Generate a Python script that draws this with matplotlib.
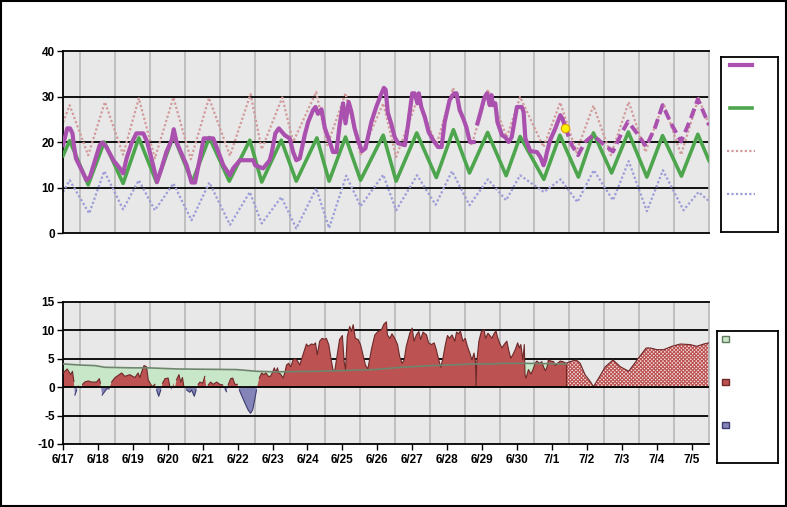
import numpy as np
import matplotlib
matplotlib.use("Agg")
import matplotlib.pyplot as plt
from matplotlib.patches import Rectangle
from matplotlib.lines import Line2D

# x values are days counted from 6/17 00:00
day_labels = ['6/17', '6/18', '6/19', '6/20', '6/21', '6/22', '6/23', '6/24', '6/25', '6/26',
              '6/27', '6/28', '6/29', '6/30', '7/1', '7/2', '7/3', '7/4', '7/5']

# observed temperature (thick purple)
obs_t = [0.00, 0.12, 0.20, 0.27, 0.31, 0.37, 0.58, 0.67, 0.77, 0.96, 1.05, 1.13, 1.24, 1.44, 1.63,
         1.72, 1.82, 1.96, 2.10, 2.30, 2.41, 2.58, 2.69, 2.82, 2.96, 3.11, 3.17, 3.25, 3.39, 3.54,
         3.68, 3.78, 3.92, 4.03, 4.30, 4.45, 4.59, 4.78, 4.87, 5.07, 5.45, 5.50, 5.73, 5.92, 5.98,
         6.08, 6.18, 6.35, 6.49, 6.59, 6.68, 6.78, 6.92, 7.02, 7.16, 7.23, 7.30, 7.40, 7.50, 7.64,
         7.73, 7.83, 7.92, 8.02, 8.09, 8.18, 8.26, 8.35, 8.45, 8.56, 8.66, 8.83, 8.97, 9.10, 9.19,
         9.24, 9.30, 9.40, 9.50, 9.60, 9.79, 9.88, 10.00, 10.07, 10.15, 10.19, 10.26, 10.36, 10.47,
         10.60, 10.74, 10.84, 10.93, 11.07, 11.20, 11.27, 11.36, 11.46, 11.55, 11.65, 11.76, 11.80,
         11.87, 11.96, 12.06, 12.14, 12.22, 12.27, 12.31, 12.38, 12.44, 12.57, 12.66, 12.76, 12.85,
         13.00, 13.14, 13.19, 13.24, 13.28, 13.38, 13.57, 13.67, 13.76, 13.81, 13.86, 13.95, 14.10,
         14.24, 14.31, 14.38]
obs_v = [19.3, 23.0, 23.0, 21.9, 19.3, 16.4, 13.1, 11.6, 12.3, 17.1, 19.3, 19.9, 18.9, 16.0, 14.2,
         13.1, 16.4, 19.7, 21.9, 21.9, 20.0, 14.9, 11.2, 14.2, 17.8, 20.4, 22.8, 20.0, 17.5, 14.9,
         11.1, 11.1, 16.4, 20.8, 20.8, 17.8, 14.9, 12.7, 14.2, 16.0, 16.0, 14.9, 14.2, 16.0, 17.8,
         21.9, 23.0, 21.5, 20.8, 17.8, 16.0, 16.4, 21.5, 24.4, 27.0, 27.7, 26.2, 27.2, 23.0, 20.0,
         17.8, 17.8, 23.7, 28.5, 24.1, 28.8, 26.6, 23.0, 20.4, 18.0, 18.6, 24.4, 27.7, 30.3, 31.9,
         31.5, 26.5, 24.0, 21.0, 19.7, 19.3, 23.7, 30.7, 30.7, 28.5, 30.7, 27.7, 25.5, 22.2,
         20.4, 18.9, 18.9, 24.4, 29.2, 30.7, 30.7, 27.0, 25.2, 23.3, 20.0, 20.0, np.nan,
         24.1, 26.6, 29.6, 30.7, 28.1, 30.3, 28.1, 28.5, 24.4, 21.5, 21.1, 20.0, 21.1,
         27.7, 27.7, 26.6, 20.8, 20.0, 18.0, 17.8, 16.7, 14.9, 16.0, 17.8, 20.4, 23.0,
         25.9, 25.0, 23.3]
latest_t = 14.39
latest_v = 23.0

# forecast temperature (dashed purple)
fcst_t = [14.38, 14.57, 14.75, 14.95, 15.18, 15.48, 15.75, 16.00, 16.18, 16.44, 16.70, 16.96,
          17.17, 17.44, 17.70, 17.96, 18.18, 18.38, 18.50]
fcst_v = [23.3, 19.3, 17.1, 20.0, 21.5, 19.5, 17.9, 22.0, 24.5, 21.9, 19.0, 23.3,
          28.1, 23.7, 20.1, 24.8, 29.4, 25.9, 23.7]

# normal temperature (green)
norm_t = [0.00, 0.19, 0.72, 1.18, 1.72, 2.17, 2.68, 3.16, 3.70, 4.19, 4.76, 5.35, 5.69, 6.25,
          6.68, 7.27, 7.62, 8.09, 8.52, 9.17, 9.54, 10.13, 10.69, 11.18, 11.64, 12.16, 12.69,
          13.09, 13.77, 14.23, 14.76, 15.19, 15.71, 16.19, 16.72, 17.17, 17.71, 18.18, 18.50]
norm_v = [17.0, 20.3, 10.6, 20.0, 10.9, 20.9, 11.1, 21.4, 11.2, 21.0, 11.4, 20.4, 11.2, 20.4,
          11.4, 20.9, 11.4, 21.1, 11.6, 21.5, 11.4, 22.0, 12.2, 22.7, 13.2, 22.1, 12.6,
          21.2, 11.8, 21.5, 12.3, 22.0, 13.2, 22.2, 12.3, 21.4, 12.5, 21.7, 15.9]

# record high (dotted)
hi_t = [0.00, 0.19, 0.72, 1.20, 1.72, 2.17, 2.63, 3.16, 3.66, 4.18, 4.78, 5.37, 5.69, 6.28,
        6.59, 7.25, 7.57, 8.09, 8.52, 9.17, 9.54, 10.16, 10.69, 11.17, 11.70, 12.17, 12.71,
        13.09, 13.76, 14.24, 14.70, 15.19, 15.69, 16.20, 16.68, 17.20, 17.70, 18.20, 18.50]
hi_v = [24.3, 28.1, 17.1, 28.8, 17.2, 29.6, 16.4, 29.8, 16.2, 29.7, 17.0, 30.5, 18.4, 29.8,
        20.0, 31.0, 19.3, 30.7, 17.1, 28.5, 16.7, 29.6, 19.3, 31.9, 19.3, 31.5, 21.1,
        29.9, 18.9, 28.7, 17.8, 28.0, 17.1, 28.8, 17.8, 28.5, 17.2, 29.7, 23.7]

# record low (dotted)
lo_t = [0.00, 0.19, 0.75, 1.18, 1.72, 2.17, 2.63, 3.16, 3.68, 4.19, 4.78, 5.35, 5.69, 6.25,
        6.68, 7.25, 7.62, 8.11, 8.52, 9.17, 9.54, 10.14, 10.67, 11.14, 11.64, 12.17, 12.69,
        13.09, 13.77, 14.25, 14.73, 15.20, 15.75, 16.20, 16.72, 17.18, 17.77, 18.20, 18.50]
lo_v = [9.0, 11.6, 4.3, 13.6, 5.2, 11.6, 5.0, 10.9, 2.8, 11.1, 1.8, 9.0, 2.1, 7.9,
        1.0, 9.8, 1.1, 12.6, 5.9, 12.8, 5.0, 12.7, 6.2, 13.6, 6.1, 11.8, 7.2,
        12.7, 9.0, 11.8, 6.8, 13.8, 7.2, 15.8, 4.8, 13.8, 5.0, 9.0, 7.0]

# departure from normal, observed part
dep_t = [0.00, 0.05, 0.12, 0.18, 0.22, 0.27, 0.31, 0.34, 0.39, 0.43, 0.50, 0.56, 0.62, 0.72,
         0.82, 0.96, 1.04, 1.07, 1.12, 1.18, 1.25, 1.32, 1.39, 1.49, 1.61, 1.68, 1.77, 1.91,
         2.06, 2.15, 2.20, 2.28, 2.32, 2.39, 2.44, 2.51, 2.56, 2.63, 2.68, 2.74, 2.80, 2.85,
         2.92, 3.01, 3.06, 3.11, 3.16, 3.20, 3.25, 3.32, 3.37, 3.42, 3.46, 3.54, 3.63, 3.68,
         3.76, 3.81, 3.87, 3.92, 4.00, 4.06, 4.11, 4.16, 4.23, 4.30, 4.40, 4.49, 4.57, 4.64,
         4.68, 4.73, 4.80, 4.86, 4.92, 4.99, 5.05, 5.11, 5.21, 5.30, 5.37, 5.43, 5.50, 5.54,
         5.62, 5.69, 5.75, 5.81, 5.88, 5.94, 6.00, 6.05, 6.10, 6.14, 6.18, 6.23, 6.30, 6.35,
         6.40, 6.46, 6.52, 6.59, 6.65, 6.73, 6.78, 6.84, 6.92, 6.97, 7.02, 7.11, 7.19, 7.23,
         7.28, 7.35, 7.42, 7.49, 7.54, 7.61, 7.68, 7.73, 7.78, 7.83, 7.92, 8.00, 8.05, 8.09,
         8.14, 8.21, 8.26, 8.31, 8.37, 8.45, 8.52, 8.59, 8.66, 8.73, 8.83, 8.93, 9.02, 9.12,
         9.19, 9.26, 9.29, 9.36, 9.42, 9.50, 9.58, 9.64, 9.71, 9.77, 9.83, 9.93, 10.00, 10.05,
         10.12, 10.19, 10.24, 10.31, 10.41, 10.47, 10.55, 10.63, 10.69, 10.76, 10.82, 10.88,
         10.95, 11.01, 11.07, 11.14, 11.22, 11.27, 11.33, 11.38, 11.45, 11.52, 11.58, 11.65,
         11.71, 11.77, 11.81, 11.83, 11.85, 11.91, 11.98, 12.06, 12.10, 12.17, 12.25, 12.28,
         12.35, 12.40, 12.44, 12.50, 12.57, 12.63, 12.71, 12.76, 12.82, 12.88, 12.95, 13.02,
         13.07, 13.11, 13.17, 13.21, 13.23, 13.26, 13.33, 13.40, 13.46, 13.52, 13.57, 13.65,
         13.71, 13.76, 13.81, 13.86, 13.90, 13.97, 14.05, 14.10, 14.16, 14.24, 14.31, 14.41]
dep_v = [2.5, 2.8, 3.2, 2.6, 2.2, 2.8, 1.0, -1.4, -0.5, 0.4, -0.3, 0.5, 0.9, 1.1,
         0.9, 0.9, 1.5, 0.7, -1.4, -0.9, -0.3, -0.3, 0.9, 1.7, 2.2, 2.5, 1.9, 2.2,
         1.7, 2.5, 1.7, 3.2, 3.8, 3.6, 1.3, 0.5, 0.1, 0.5, -0.5, -1.6, -0.5, 0.7,
         1.5, 1.6, 0.1, -0.5, 0.7, -0.3, 1.3, 2.2, 0.9, 1.7, 0.1, -0.5, -0.9, -0.5,
         -1.6, -0.5, 0.5, 0.9, 0.7, 1.9, -0.1, 0.4, 0.9, 0.5, 0.9, 0.5, 0.4, -0.3,
         -0.8, 0.4, 1.5, 1.6, 0.5, 0.5, -0.5, -1.4, -2.8, -4.0, -4.6, -4.0, -1.9, -0.5,
         1.6, 2.5, 2.2, 2.5, 1.9, 1.9, 2.6, 3.4, 2.6, 3.4, 2.5, 2.3, 1.6, 2.5,
         3.9, 4.2, 3.6, 4.8, 5.0, 4.5, 3.9, 5.1, 6.6, 7.6, 7.2, 7.6, 7.5, 7.8,
         5.7, 8.1, 8.6, 8.4, 8.6, 7.5, 4.8, 3.1, 2.8, 4.8, 8.4, 9.1, 4.5, 3.1,
         8.9, 10.7, 9.8, 11.0, 8.6, 8.4, 7.5, 5.7, 3.9, 3.2, 6.6, 9.2, 9.8, 10.1,
         11.1, 11.5, 9.2, 8.6, 9.4, 8.6, 7.5, 5.4, 4.2, 4.8, 7.2, 9.5, 10.4, 8.1,
         9.2, 9.8, 8.4, 9.7, 9.2, 7.8, 7.5, 7.8, 6.6, 4.8, 3.5, 5.1,
         7.5, 9.1, 8.6, 9.2, 8.1, 9.7, 9.4, 9.9, 8.1, 8.6, 7.2, 6.0,
         4.8, 6.0, 4.5, 0.2, 4.5, 8.1, 9.8, 10.1, 8.6, 9.5, 8.9, 8.6,
         9.5, 9.9, 8.9, 7.8, 6.9, 7.5, 8.1, 6.6, 5.1, 5.7, 6.6, 7.8,
         6.9, 7.5, 4.8, 7.5, 2.2, 1.6, 3.1, 2.3, 3.1, 4.2, 4.6, 4.2,
         4.5, 3.6, 2.9, 3.5, 4.8, 4.6, 4.5, 3.8, 4.2, 4.6, 4.5, 4.2]

# departure, forecast part (hatched)
dep_fc_t = [14.41, 14.52, 14.70, 14.81, 14.95, 15.10, 15.19, 15.34, 15.53, 15.75, 15.96, 16.20,
            16.44, 16.70, 16.82, 17.01, 17.20, 17.44, 17.68, 17.96, 18.15, 18.35, 18.50]
dep_fc_v = [4.2, 4.5, 4.8, 4.2, 2.2, 1.0, 0.1, 1.6, 3.6, 4.8, 3.6, 2.8,
            4.8, 6.9, 6.9, 6.6, 6.6, 7.2, 7.6, 7.5, 7.2, 7.6, 7.8]

# running mean departure (green area)
avg_t = [0.00, 0.48, 0.91, 1.20, 2.00, 2.44, 3.30, 4.97, 5.54, 6.06, 7.30, 8.93, 9.69, 10.55,
         11.03, 11.79, 12.36, 12.52, 13.23, 14.41]
avg_v = [4.1, 3.9, 3.8, 3.5, 3.4, 3.4, 3.2, 3.1, 2.8, 2.7, 2.8, 3.1, 3.5, 3.8,
         3.9, 4.1, 4.1, 4.2, 4.2, 4.1]

PURPLE = '#AA50AE'
GREEN = '#4DA64D'
PINK = '#D29A9A'
BLUE = '#9C9CD8'
RED = '#BC5252'
RED_EDGE = '#6E2828'
BLUEFILL = '#8484B8'
BLUE_EDGE = '#3C3C70'
LIGHTGREEN = '#C8E6C8'
GREENLINE = '#6E866E'
BG = '#E8E8E8'

plt.rcParams['hatch.linewidth'] = 0.8

fig = plt.figure(figsize=(7.87, 5.07), dpi=100)
ax1 = fig.add_axes([0.0801, 0.5404, 0.8208, 0.359])
ax2 = fig.add_axes([0.0801, 0.1243, 0.8208, 0.2801])

tick_font = dict(family=['Liberation Sans', 'DejaVu Sans'], weight='bold', size=8.5)
x_font = dict(family=['Liberation Sans Narrow', 'Liberation Sans', 'DejaVu Sans'],
              weight='bold', size=8.5)

for ax, yt in ((ax1, [0, 10, 20, 30, 40]), (ax2, [-10, -5, 0, 5, 10, 15])):
    ax.set_facecolor(BG)
    ax.set_xlim(0, 18.5)
    ax.set_ylim(yt[0], yt[-1])
    for d in np.arange(0.5, 18.5, 1.0):
        ax.axvline(d, color='#B8B8B8', lw=1.2, zorder=0.5)
    for y in yt[1:-1]:
        ax.axhline(y, color='black', lw=1.3, zorder=0.6)
    ax.set_yticks(yt)
    ax.set_yticklabels([str(v) for v in yt], **tick_font)
    ax.tick_params(axis='y', length=4, width=1, pad=2)
    for s in ('left', 'bottom', 'top'):
        ax.spines[s].set_color('black')
        ax.spines[s].set_linewidth(1.3)
    ax.spines['right'].set_color('#B8B8B8')
    ax.spines['right'].set_linewidth(1.2)

ax1.set_xticks([])

# top panel
ax1.plot(lo_t, lo_v, color=BLUE, lw=1.6, ls=(0, (1, 1)), zorder=2)
ax1.plot(hi_t, hi_v, color=PINK, lw=1.6, ls=(0, (1, 1)), zorder=2)
ax1.plot(norm_t, norm_v, color=GREEN, lw=2.6, zorder=3)
ax1.plot(obs_t, obs_v, color=PURPLE, lw=3.0, zorder=4, solid_joinstyle='round')
ax1.plot(fcst_t, fcst_v, color=PURPLE, lw=2.8, ls=(0, (2.6, 1.3)), zorder=4)
ax1.plot([latest_t], [latest_v], 'o', ms=6, mfc='#FFF200', mec='#E0A000', mew=0.8, zorder=5)

# bottom panel
dt = np.array(dep_t)
dv = np.array(dep_v)
ax2.fill_between(avg_t, 0, avg_v, color=LIGHTGREEN, lw=0, zorder=1)
ax2.fill_between(dt, 0, dv, where=dv >= 0, interpolate=True, color=RED, lw=0, zorder=2)
ax2.fill_between(dt, 0, dv, where=dv <= 0, interpolate=True, color=BLUEFILL, lw=0, zorder=2)
ax2.fill_between(dep_fc_t, 0, dep_fc_v, facecolor='#F4E4E4', edgecolor=RED,
                 hatch='xxxxxxxxx', lw=0, zorder=2)
ax2.plot(dt, np.where(dv >= 0, dv, np.nan), color=RED_EDGE, lw=0.8, zorder=3)
ax2.plot(dt, np.where(dv <= 0, dv, np.nan), color=BLUE_EDGE, lw=0.8, zorder=3)
ax2.plot(dep_fc_t, dep_fc_v, color=RED_EDGE, lw=0.8, zorder=3)
ax2.plot(avg_t, avg_v, color=GREENLINE, lw=1.2, zorder=4)
ax2.axvline(dep_fc_t[0], ymin=0.4, ymax=0.4 + dep_fc_v[0] / 25, color=RED_EDGE, lw=0.8, zorder=3)
ax2.axhline(0, color='black', lw=1.3, zorder=5)

ax2.set_xticks(range(len(day_labels)))
ax2.set_xticklabels(day_labels, **x_font)
ax2.tick_params(axis='x', length=4, width=1, pad=3)

# legend boxes (labels are blank in the original)
leg1 = fig.add_axes([0.9161, 0.5424, 0.0724, 0.3452])
leg2 = fig.add_axes([0.9111, 0.0868, 0.0775, 0.2604])
for lg in (leg1, leg2):
    lg.set_xlim(0, 1)
    lg.set_ylim(0, 1)
    lg.set_xticks([])
    lg.set_yticks([])
    for s in lg.spines.values():
        s.set_linewidth(1.3)
        s.set_color('black')

leg1.add_line(Line2D([0.16, 0.54], [0.954, 0.954], color=PURPLE, lw=3.0))
leg1.add_line(Line2D([0.16, 0.54], [0.709, 0.709], color=GREEN, lw=2.6))
leg1.add_line(Line2D([0.10, 0.60], [0.463, 0.463], color=PINK, lw=1.6, ls=(0, (1, 1))))
leg1.add_line(Line2D([0.10, 0.60], [0.217, 0.217], color=BLUE, lw=1.6, ls=(0, (1, 1))))

for yc, fc, ec in ((0.937, LIGHTGREEN, '#5F7A5F'), (0.611, RED, RED_EDGE),
                   (0.286, BLUEFILL, BLUE_EDGE)):
    leg2.add_patch(Rectangle((0.087, yc - 0.024), 0.105, 0.048, facecolor=fc,
                             edgecolor=ec, lw=1.0))

fig.add_artist(Rectangle((0.0008, 0.0012), 0.9975, 0.9965, transform=fig.transFigure,
                         fill=False, edgecolor='black', lw=1.5))

fig.savefig('out.png', dpi=100)
